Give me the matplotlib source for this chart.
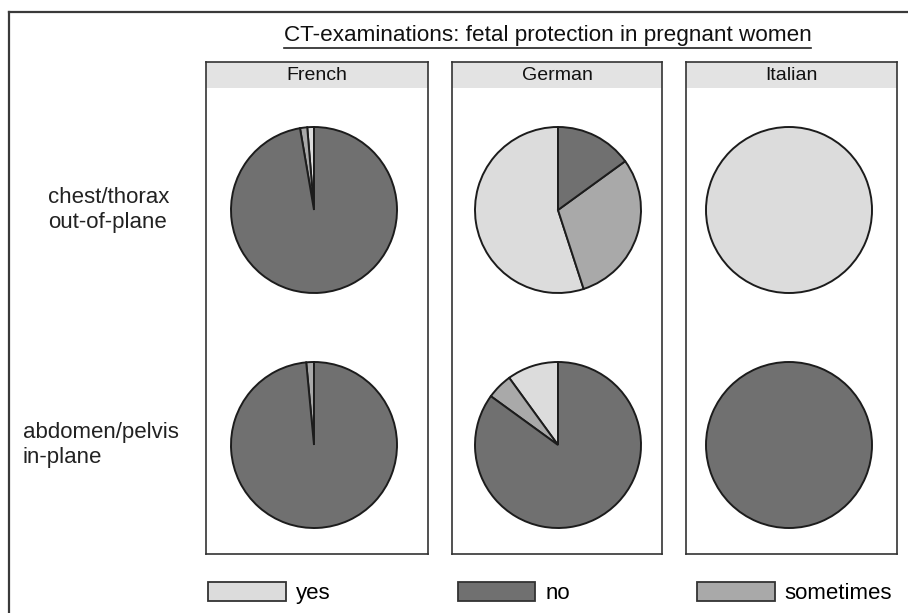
import matplotlib
matplotlib.use("Agg")
import matplotlib.pyplot as plt
from matplotlib.patches import Patch, Rectangle
from matplotlib.lines import Line2D

plt.rcParams['font.family'] = ['Liberation Sans', 'DejaVu Sans']

# data (percent of answers), order: yes, no, sometimes
languages = ['French', 'German', 'Italian']
rows = ['chest/thorax\nout-of-plane', 'abdomen/pelvis\nin-plane']
answers = ['yes', 'no', 'sometimes']
chest_yes = [1.3, 55.0, 100.0]
chest_no = [97.3, 15.0, 0.0]
chest_some = [1.4, 30.0, 0.0]
abdo_yes = [0.0, 10.0, 0.0]
abdo_no = [98.5, 85.0, 100.0]
abdo_some = [1.5, 5.0, 0.0]

colors = {'yes': '#dcdcdc', 'no': '#707070', 'sometimes': '#a9a9a9'}
edge = '#1c1c1c'

W, H = 908, 613
fig = plt.figure(figsize=(W / 100, H / 100), dpi=100)

def fbox(x0, y0, x1, y1):
    # pixel box (top-left origin) -> figure fraction rect
    return [x0 / W, 1 - y1 / H, (x1 - x0) / W, (y1 - y0) / H]

# outer frame (cut off on the right and bottom)
fig.add_artist(Line2D([9 / W, 9 / W], [1 - 12 / H, 0], color='#3a3a3a', lw=1.6))
fig.add_artist(Line2D([9 / W, 1], [1 - 12 / H, 1 - 12 / H], color='#3a3a3a', lw=1.6))

title = fig.text(547.5 / W, 1 - 35 / H, 'CT-examinations: fetal protection in pregnant women',
                 ha='center', va='center', fontsize=16.2, color='#111111')

panel_x = [(206, 428), (452, 662), (686, 897)]
pie_cx = [314, 558, 789]
pie_rows_y = [210, 445]
r = 83

row_vals = [(chest_yes, chest_no, chest_some), (abdo_yes, abdo_no, abdo_some)]

for i, lang in enumerate(languages):
    x0, x1 = panel_x[i]
    pan = fig.add_axes(fbox(x0, 62, x1, 554))
    pan.set_xticks([])
    pan.set_yticks([])
    for s in pan.spines.values():
        s.set_color('#333333')
        s.set_linewidth(1.2)
    pan.add_patch(Rectangle((0, 1 - 26 / 492), 1, 26 / 492, transform=pan.transAxes,
                            facecolor='#e3e3e3', edgecolor='none'))
    pan.text(0.5, 1 - 13 / 492, lang, transform=pan.transAxes, ha='center', va='center',
             fontsize=14, color='#111111')

    cx = pie_cx[i]
    for j, cy in enumerate(pie_rows_y):
        yes_v, no_v, some_v = row_vals[j]
        vals = [yes_v[i], some_v[i], no_v[i]]
        names = ['yes', 'sometimes', 'no']
        keep = [(v, n) for v, n in zip(vals, names) if v > 0]
        ax = fig.add_axes(fbox(cx - 87, cy - 87, cx + 87, cy + 87))
        ax.pie([v for v, n in keep], colors=[colors[n] for v, n in keep],
               startangle=90, counterclock=True, radius=1,
               wedgeprops=dict(edgecolor=edge, linewidth=1.4))
        ax.set_xlim(-87 / r, 87 / r)
        ax.set_ylim(-87 / r, 87 / r)
        ax.set_aspect('equal')
        ax.axis('off')

# row labels
fig.text(48 / W, 1 - 210 / H, rows[0], ha='left', va='center', fontsize=16,
         color='#222222', linespacing=1.2, multialignment='left')
fig.text(23 / W, 1 - 445 / H, rows[1], ha='left', va='center', fontsize=16,
         color='#222222', linespacing=1.2, multialignment='left')

# legend
handles = [Patch(facecolor=colors[a], edgecolor='#333333', linewidth=1.3) for a in answers]
fig.legend(handles, answers, loc='center left', bbox_to_anchor=(208 / W, 1 - 593 / H),
           ncol=3, frameon=False, fontsize=16, handlelength=3.5, handleheight=0.9,
           handletextpad=0.45, columnspacing=5.72, borderpad=0, borderaxespad=0)

# underline the title
fig.canvas.draw()
bb = title.get_window_extent()
fig.add_artist(Line2D([bb.x0 / W, bb.x1 / W], [(bb.y0 - 2) / H, (bb.y0 - 2) / H],
                      color='#222222', lw=1.2))

fig.savefig('out.png', dpi=100, facecolor='white')
